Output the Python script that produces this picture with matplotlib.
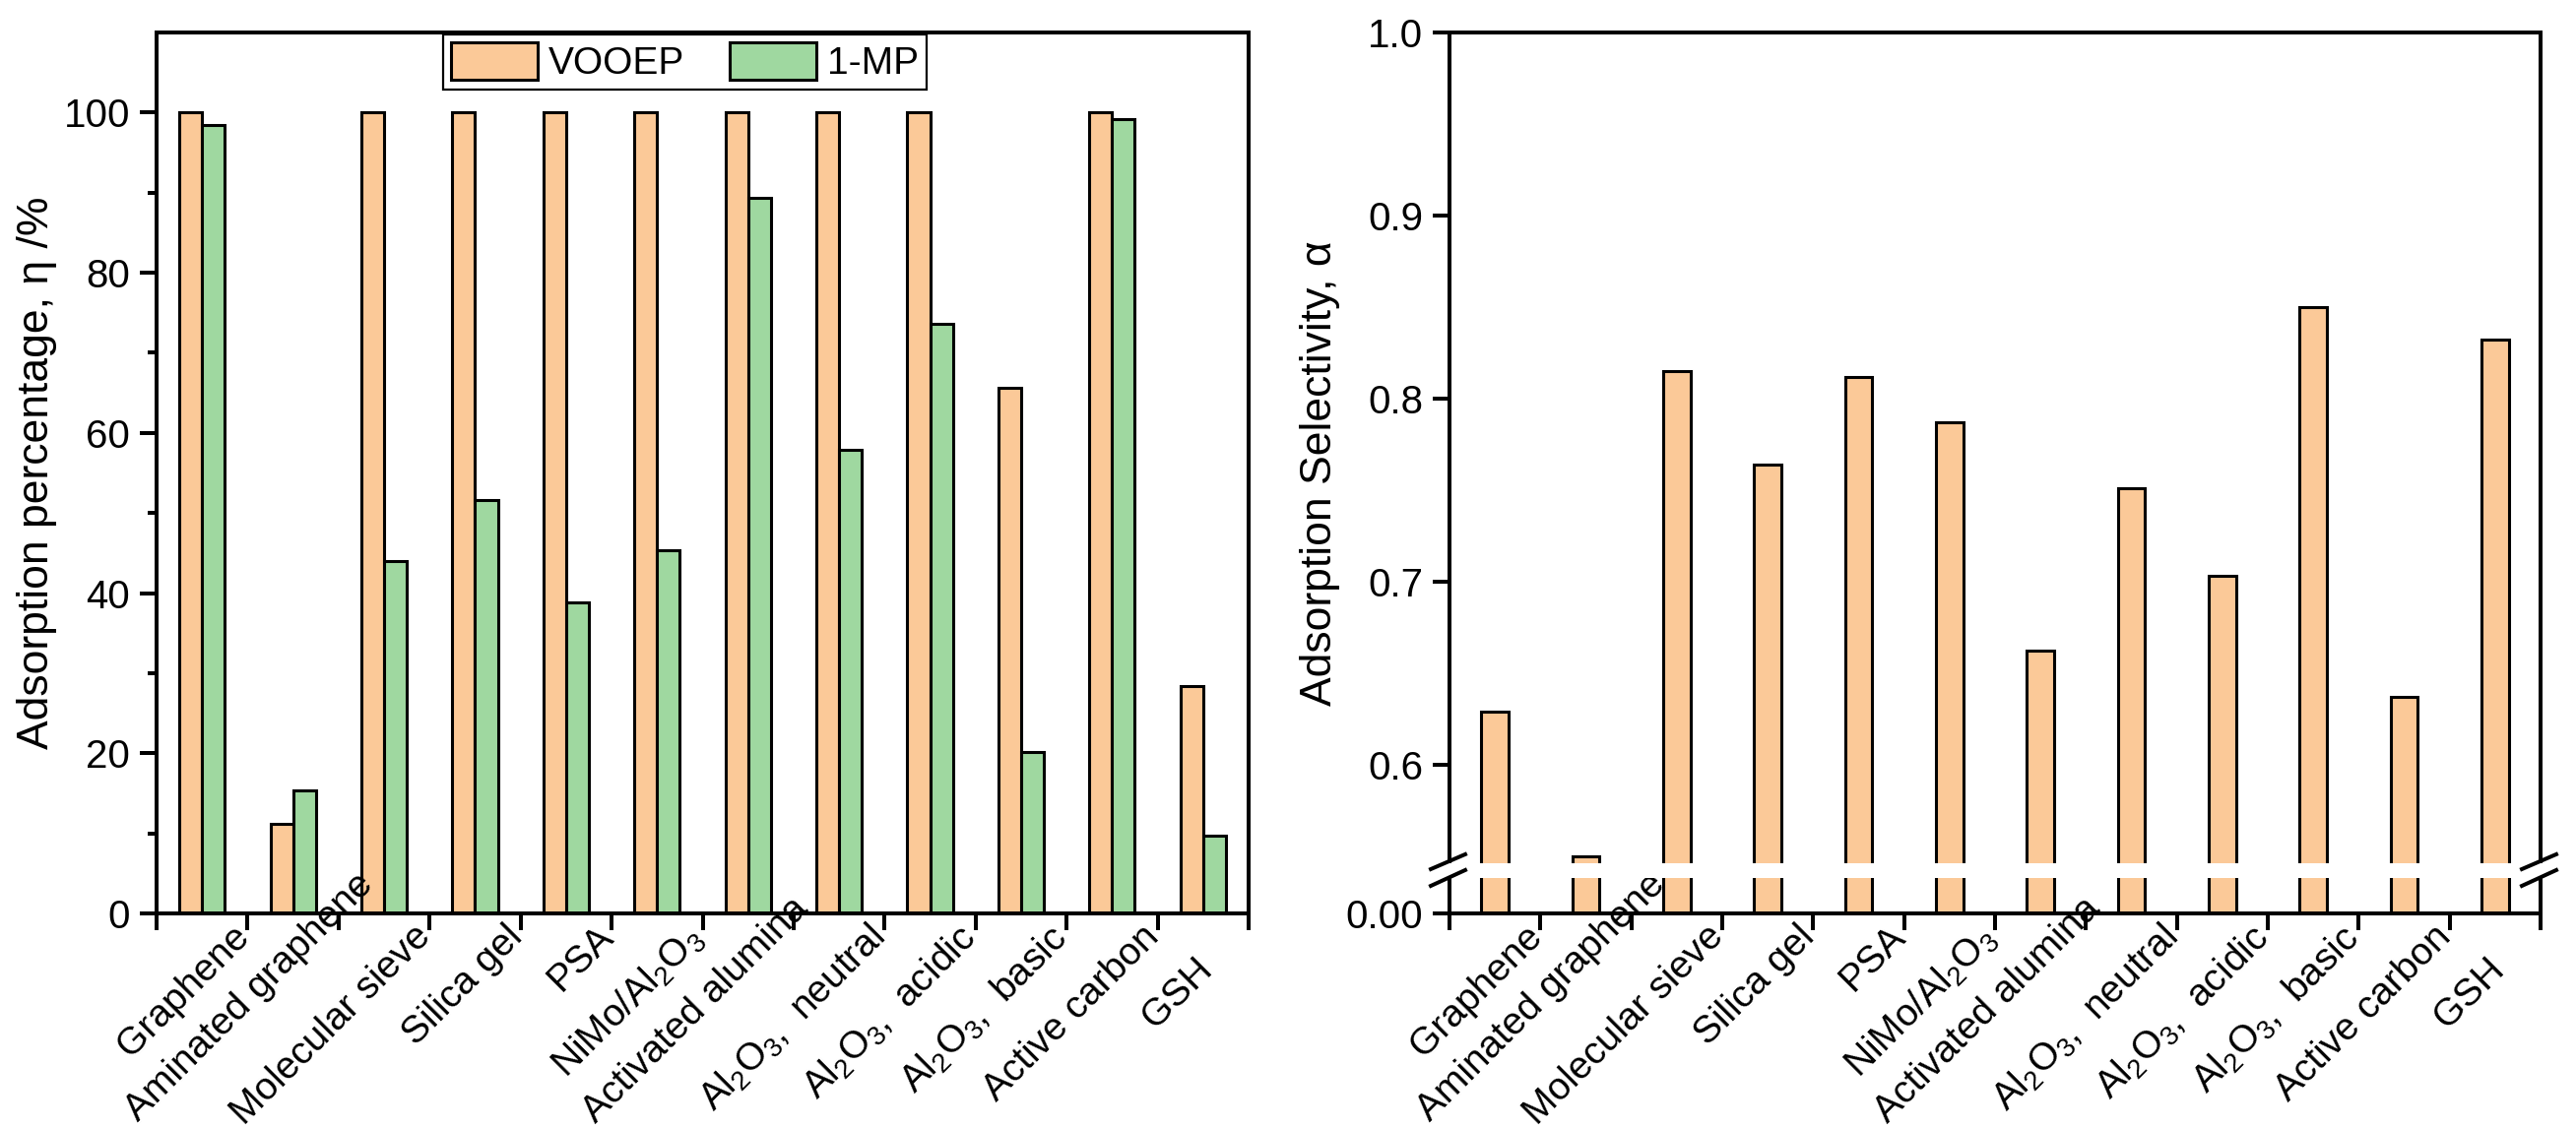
import numpy as np
import matplotlib
matplotlib.use("Agg")
import matplotlib.pyplot as plt
from matplotlib.patches import Rectangle
from matplotlib.lines import Line2D
from matplotlib.transforms import ScaledTranslation

plt.rcParams['font.family'] = ['Liberation Sans', 'DejaVu Sans']
plt.rcParams['mathtext.fontset'] = 'custom'
plt.rcParams['mathtext.rm'] = 'Liberation Sans'
plt.rcParams['mathtext.it'] = 'Liberation Sans:italic'
plt.rcParams['mathtext.default'] = 'regular'

# data
categories = ['Graphene', 'Aminated graphene', 'Molecular sieve', 'Silica gel', 'PSA',
              'NiMo/Al$_2$O$_3$', 'Activated alumina', 'Al$_2$O$_3$,  neutral',
              'Al$_2$O$_3$,  acidic', 'Al$_2$O$_3$,  basic', 'Active carbon', 'GSH']
vooep = [100, 11.2, 100, 100, 100, 100, 100, 100, 100, 65.6, 100, 28.4]
mp1 = [98.5, 15.4, 44.0, 51.6, 38.8, 45.3, 89.3, 57.9, 73.6, 20.2, 99.2, 9.7]
selectivity = [0.629, 0.550, 0.815, 0.764, 0.812, 0.787, 0.662, 0.751, 0.703, 0.850, 0.637, 0.832]

ORANGE = '#fbc998'
GREEN = '#9fd8a0'
DPI = 200
LW = 1.44

# label shifts (px) for labels Origin moved to stay on the page
label_shift = {1: (33, 53), 6: (13, 28), 11: (-39, -33)}

fig = plt.figure(figsize=(2616 / DPI, 1146 / DPI), dpi=DPI)
ax1 = fig.add_axes([159 / 2616, 1 - 928 / 1146, 1109 / 2616, 895 / 1146])
ax2 = fig.add_axes([1472 / 2616, 1 - 928 / 1146, 1108 / 2616, 895 / 1146])

x = np.arange(len(categories))


def style_axes(ax):
    for s in ax.spines.values():
        s.set_linewidth(LW)
    ax.set_xlim(-0.5, len(categories) - 0.5)
    ax.set_xticks(np.arange(-0.5, len(categories), 1))
    ax.set_xticklabels([])
    ax.set_xticks(x, minor=True)
    ax.set_xticklabels(categories, minor=True, rotation=45, ha='right', va='top', fontsize=14)
    ax.tick_params(axis='x', which='major', direction='out', length=6.1, width=LW)
    ax.tick_params(axis='x', which='minor', length=0, pad=2)
    ax.tick_params(axis='y', which='major', direction='out', length=6.1, width=LW, labelsize=14.5)
    for i, lab in enumerate(ax.get_xticklabels(minor=True)):
        dx, dy = label_shift.get(i, (0, 0))
        lab.set_transform(lab.get_transform() +
                          ScaledTranslation((55 + dx) / DPI, dy / DPI, fig.dpi_scale_trans))


# left panel: adsorption percentage
b1 = ax1.bar(x - 0.125, vooep, 0.25, color=ORANGE, edgecolor='black', linewidth=1.1, label='VOOEP')
b2 = ax1.bar(x + 0.125, mp1, 0.25, color=GREEN, edgecolor='black', linewidth=1.1, label='1-MP')
style_axes(ax1)
ax1.set_ylim(0, 110)
ax1.set_yticks([0, 20, 40, 60, 80, 100])
ax1.set_yticks([10, 30, 50, 70, 90], minor=True)
ax1.tick_params(axis='y', which='minor', direction='out', length=3.2, width=LW)
ax1.set_ylabel('Adsorption percentage, η /%', fontsize=16, va='center')
ax1.yaxis.set_label_coords(-0.110, 0.5)
leg = ax1.legend(loc='upper center', bbox_to_anchor=(0.4838, 0.998), ncol=2, fontsize=14,
                 frameon=True, fancybox=False, edgecolor='black', framealpha=1,
                 borderaxespad=0, handlelength=2.26, handleheight=1.13, handletextpad=0.28,
                 columnspacing=1.2, borderpad=0.2)
leg.get_frame().set_linewidth(0.8)

# right panel: selectivity with broken axis
brk = 0.542
k = 0.0432


def fwd(v):
    v = np.asarray(v, dtype=float)
    return np.where(v <= brk, v * k, brk * k + (v - brk))


def inv(u):
    u = np.asarray(u, dtype=float)
    return np.where(u <= brk * k, u / k, u - brk * k + brk)


ax2.bar(x, selectivity, 0.3, color=ORANGE, edgecolor='black', linewidth=1.1)
ax2.set_yscale('function', functions=(fwd, inv))
ax2.set_ylim(0, 1.0)
style_axes(ax2)
ax2.set_yticks([0, 0.6, 0.7, 0.8, 0.9, 1.0])
ax2.set_yticklabels(['0.00', '0.6', '0.7', '0.8', '0.9', '1.0'])
ax2.yaxis.set_minor_locator(matplotlib.ticker.NullLocator())
ax2.set_ylabel('Adsorption Selectivity, α', fontsize=16, va='center')
ax2.yaxis.set_label_coords(-0.119, 0.5)

# white gap and break marks
ax2.add_patch(Rectangle((-0.006, 0.0403), 1.012, 0.0168, transform=ax2.transAxes,
                        facecolor='white', edgecolor='none', zorder=5, clip_on=False))
for x0 in (0.0, 1.0):
    for ya, yb in ((0.0503, 0.0671), (0.0313, 0.0492)):
        ax2.add_line(Line2D([x0 - 0.0171, x0 + 0.0144], [ya, yb], transform=ax2.transAxes,
                            color='black', linewidth=LW, zorder=6, clip_on=False))

fig.savefig('out.png', dpi=DPI)
